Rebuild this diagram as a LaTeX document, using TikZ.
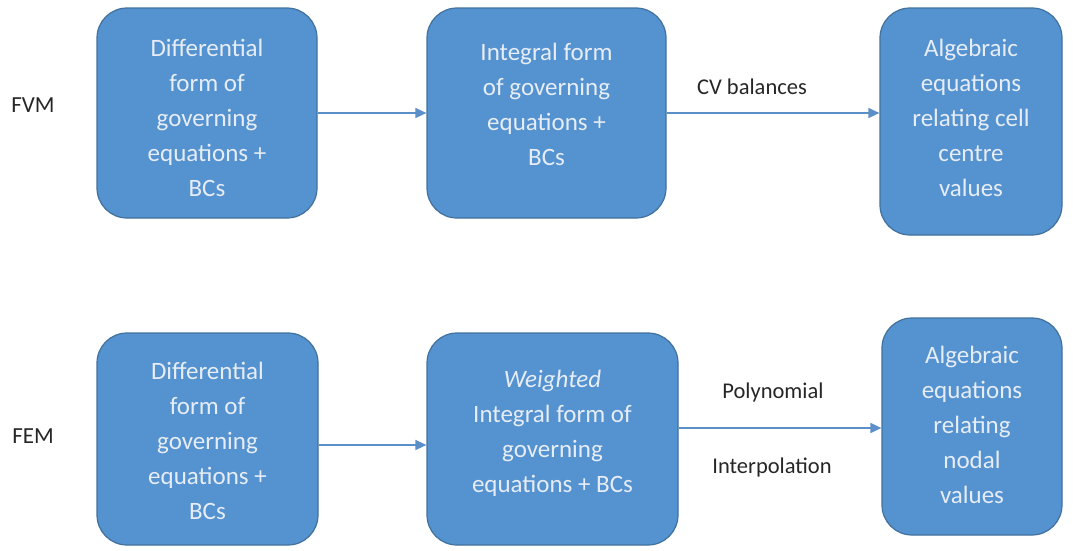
\documentclass[tikz,border=0pt]{standalone}
\usepackage{fontspec}
\setmainfont{Carlito}
\usetikzlibrary{arrows.meta}
\definecolor{boxfill}{HTML}{5592D0}
\definecolor{boxline}{HTML}{41719C}
\definecolor{boxtextc}{HTML}{E6EDF6}
\definecolor{arrowc}{HTML}{5B8FC8}
\tikzset{
  x=1pt,y=-1pt,
  procbox/.style={draw=boxline, line width=1.2pt, fill=boxfill, rounded corners=30pt, inner sep=0pt},
  boxtext/.style={text=boxtextc, align=center, inner sep=0pt,
    font=\fontsize{25}{35}\selectfont},
  sidelabel/.style={font=\fontsize{23}{26}\selectfont, text=black!85},
  edgelabel/.style={font=\fontsize{22.5}{26}\selectfont, text=black!85},
  flow/.style={draw=arrowc, line width=1.5pt, -{Triangle[length=11pt,width=10pt]}},
}
\begin{document}
\begin{tikzpicture}
\useasboundingbox (0,0) rectangle (1077,550);
% FVM row
\node[sidelabel] (fvm) at (33,105) {FVM};
\node[procbox, minimum width=220pt, minimum height=210pt] (a1) at (207,113) {};
\node[boxtext] (a1t) at (207,118)
  {Differential\\form of\\governing\\equations +\\BCs};
\node[procbox, minimum width=239pt, minimum height=210pt] (a2) at (546.5,113) {};
\node[boxtext] (a2t) at (546.5,104)
  {Integral form\\of governing\\equations +\\BCs};
\node[procbox, minimum width=182pt, minimum height=227pt] (a3) at (971,121.5) {};
\node[boxtext] (a3t) at (971,118)
  {Algebraic\\equations\\relating cell\\centre\\values};
\draw[flow] (a1.east |- 0,113) -- (a2.west |- 0,113);
\draw[flow] (a2.east |- 0,113) -- (a3.west |- 0,113);
\node[edgelabel] (cv) at (752,87) {CV balances};
% FEM row
\node[sidelabel] (fem) at (33,436) {FEM};
\node[procbox, minimum width=221pt, minimum height=212pt] (b1) at (207.5,439) {};
\node[boxtext] (b1t) at (207.5,441)
  {Differential\\form of\\governing\\equations +\\BCs};
\node[procbox, minimum width=251pt, minimum height=212pt] (b2) at (552.5,439) {};
\node[boxtext] (b2t) at (552.5,433)
  {\textit{Weighted}\\Integral form of\\governing\\equations + BCs};
\node[procbox, minimum width=180pt, minimum height=217pt] (b3) at (972,426.5) {};
\node[boxtext] (b3t) at (972,425)
  {Algebraic\\equations\\relating\\nodal\\values};
\draw[flow] (b1.east |- 0,445) -- (b2.west |- 0,445);
\draw[flow] (b2.east |- 0,428) -- (b3.west |- 0,428);
\node[edgelabel] (poly) at (773,392) {Polynomial};
\node[edgelabel] (interp) at (772,467) {Interpolation};
\end{tikzpicture}
\end{document}
